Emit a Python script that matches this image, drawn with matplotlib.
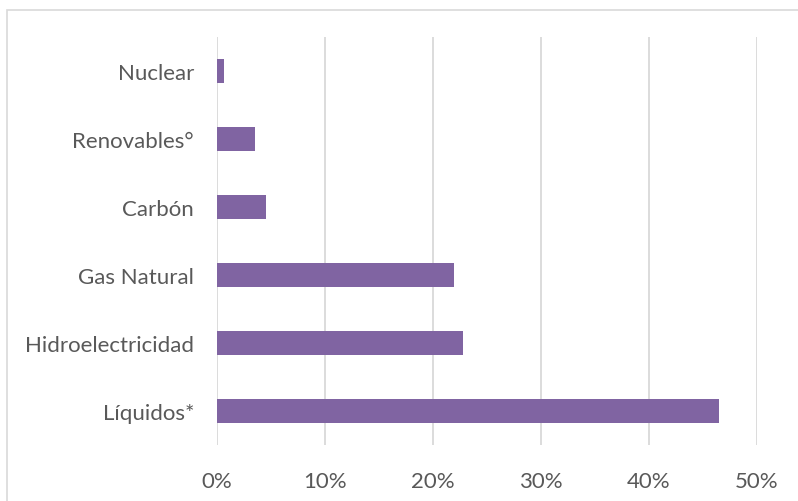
import matplotlib
matplotlib.use('Agg')
import matplotlib.pyplot as plt
from matplotlib.patches import Rectangle
from matplotlib.ticker import FuncFormatter

# Data (bottom to top)
categories = ['Líquidos*', 'Hidroelectricidad', 'Gas Natural', 'Carbón', 'Renovables°', 'Nuclear']
shares = [46.5, 22.75, 21.97, 4.57, 3.55, 0.68]
xticks = [0, 10, 20, 30, 40, 50]

plt.rcParams['font.family'] = ['Lato', 'DejaVu Sans']

fig = plt.figure(figsize=(7.98, 5.02), dpi=100)
W, H = 798, 502
ax = fig.add_axes([217 / W, 1 - 446 / H, (757 - 217) / W, (446 - 38) / H])

# Outer chart border (runs off the right and bottom edges)
fig.patches.append(Rectangle((7 / W, -0.1), 1.2, 1 - 11 / H + 0.1, transform=fig.transFigure,
                             fill=False, edgecolor='#d9d9d9', linewidth=1.2))

ax.barh(range(len(categories)), shares, height=0.34, color='#8064A2', zorder=3)

ax.set_xlim(0, 50)
ax.set_ylim(-0.5, len(categories) - 0.5)
ax.set_xticks(xticks)
ax.xaxis.set_major_formatter(FuncFormatter(lambda v, p: f'{v:.0f}%'))
ax.set_yticks(range(len(categories)))
ax.set_yticklabels(categories)

ax.grid(axis='x', color='#d9d9d9', linewidth=1.3, zorder=0)
for s in ax.spines.values():
    s.set_visible(False)
ax.tick_params(length=0, labelsize=16, labelcolor='#595959')
ax.tick_params(axis='x', pad=18.5)
ax.tick_params(axis='y', pad=16.5)

fig.savefig('out.png', dpi=100)
